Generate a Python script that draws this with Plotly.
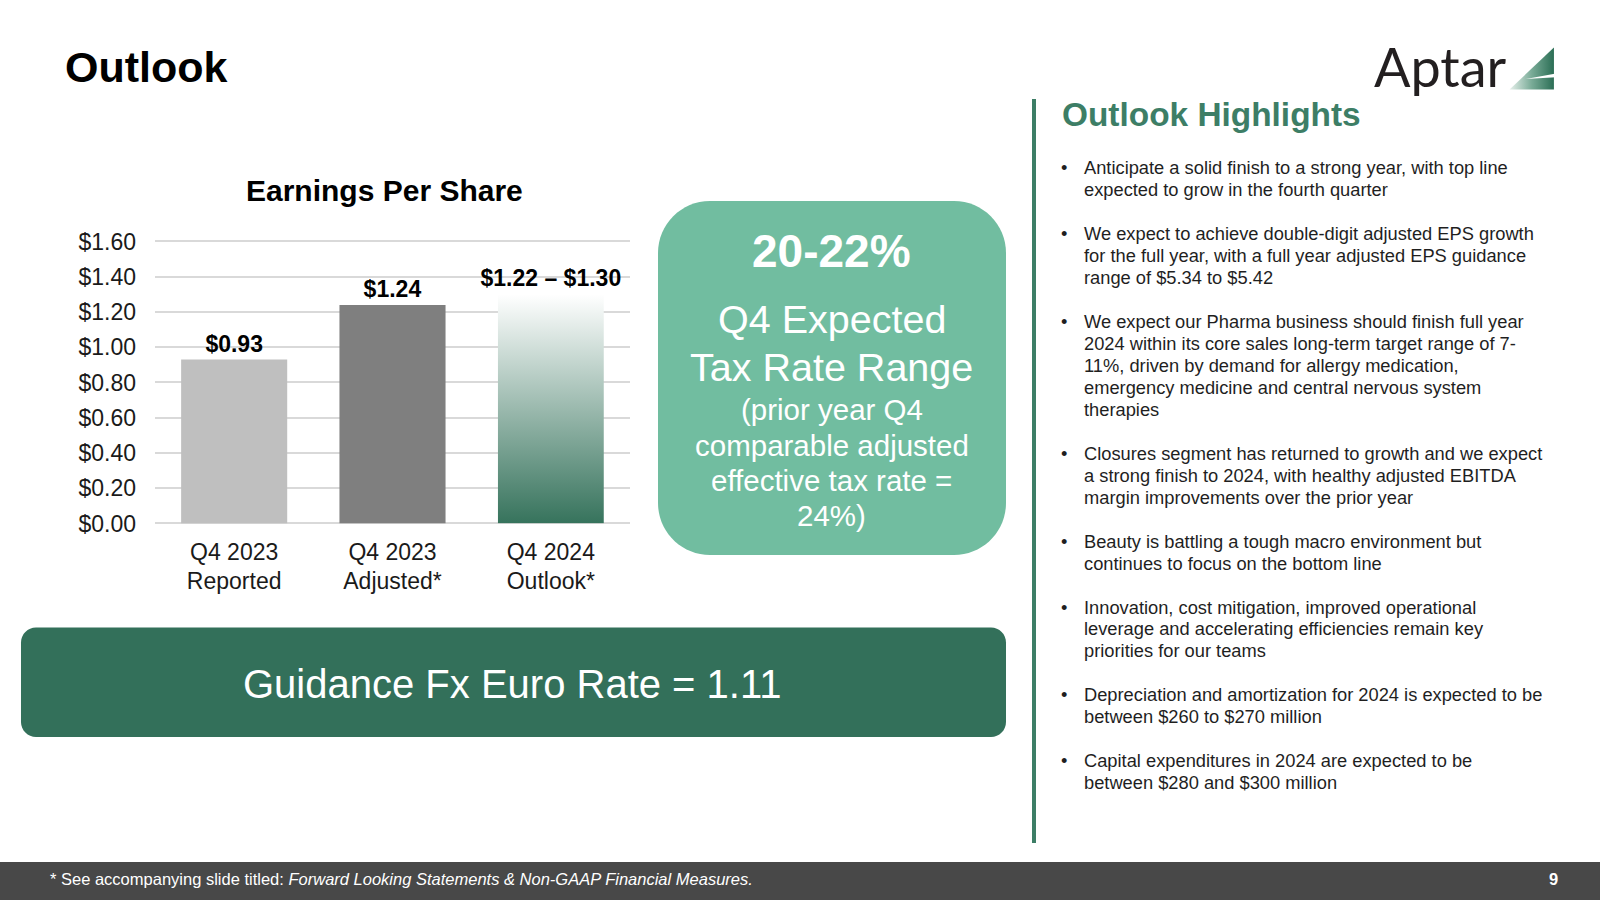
import base64

import plotly.graph_objs as go

W, H = 1600, 900
FONT = "Arial, 'Liberation Sans', sans-serif"
GREEN = "#3D7E66"
DARK_GREEN = "#33705A"
LIGHT_GREEN = "#71BDA0"

# chart data
categories = ["Q4 2023<br>Reported", "Q4 2023<br>Adjusted*", "Q4 2024<br>Outlook*"]
eps_values = [0.93, 1.24, 1.30]
outlook_low = 1.22
bar_colors = ["#BFBFBF", "#7F7F7F", "rgba(0,0,0,0)"]
bar_width = 0.67

tax_headline = "20-22%"
tax_lines = ["Q4 Expected", "Tax Rate Range"]
tax_note = ["(prior year Q4", "comparable adjusted", "effective tax rate =", "24%)"]
fx_text = "Guidance Fx Euro Rate = 1.11"

bullets = [
    ["Anticipate a solid finish to a strong year, with top line",
     "expected to grow in the fourth quarter"],
    ["We expect to achieve double-digit adjusted EPS growth",
     "for the full year, with a full year adjusted EPS guidance",
     "range of $5.34 to $5.42"],
    ["We expect our Pharma business should finish full year",
     "2024 within its core sales long-term target range of 7-",
     "11%, driven by demand for allergy medication,",
     "emergency medicine and central nervous system",
     "therapies"],
    ["Closures segment has returned to growth and we expect",
     "a strong finish to 2024, with healthy adjusted EBITDA",
     "margin improvements over the prior year"],
    ["Beauty is battling a tough macro environment but",
     "continues to focus on the bottom line"],
    ["Innovation, cost mitigation, improved operational",
     "leverage and accelerating efficiencies remain key",
     "priorities for our teams"],
    ["Depreciation and amortization for 2024 is expected to be",
     "between $260 to $270 million"],
    ["Capital expenditures in 2024 are expected to be",
     "between $280 and $300 million"],
]


def fmt(v):
    return "${:.2f}".format(v)


bar_labels = [fmt(v) for v in eps_values[:2]] + [fmt(outlook_low) + " – " + fmt(eps_values[2])]


def px(x, y):
    return x / W, 1 - y / H


def rounded_path(x0, y0, x1, y1, r):
    k = 0.4477 * r

    def p(x, y):
        a, b = px(x, y)
        return "{:.5f},{:.5f}".format(a, b)

    return ("M {} L {} C {} {} {} L {} C {} {} {} L {} C {} {} {} L {} C {} {} {} Z".format(
        p(x0 + r, y0), p(x1 - r, y0),
        p(x1 - k, y0), p(x1, y0 + k), p(x1, y0 + r),
        p(x1, y1 - r),
        p(x1, y1 - k), p(x1 - k, y1), p(x1 - r, y1),
        p(x0 + r, y1),
        p(x0 + k, y1), p(x0, y1 - k), p(x0, y1 - r),
        p(x0, y0 + r),
        p(x0, y0 + k), p(x0 + k, y0), p(x0 + r, y0)))


def svg_uri(svg):
    return "data:image/svg+xml;base64," + base64.b64encode(svg.encode()).decode()


annotations = []


def add_text(x, y, s, size, color="#1F1F1F", xanchor="left", family=FONT):
    ax, ay = px(x, y)
    annotations.append(dict(
        x=ax, y=ay, xref="paper", yref="paper", text=s, showarrow=False,
        xanchor=xanchor, yanchor="middle", align=xanchor if xanchor != "center" else "center",
        font=dict(family=family, size=size, color=color)))


fig = go.Figure()
fig.add_trace(go.Bar(
    x=categories, y=eps_values, width=bar_width,
    marker=dict(color=bar_colors, line=dict(width=0)),
    text=bar_labels, textposition="outside", constraintext="none",
    textfont=dict(family=FONT, size=23, color="#000000", weight="bold"),
    cliponaxis=False, hoverinfo="skip",
))

# gradient fill for the outlook bar
grad_svg = ('<svg xmlns="http://www.w3.org/2000/svg" width="10" height="100" viewBox="0 0 10 100" '
            'preserveAspectRatio="none"><defs><linearGradient id="g" x1="0" y1="0" x2="0" y2="1">'
            '<stop offset="0" stop-color="#FFFFFF"/><stop offset="1" stop-color="#36735C"/>'
            '</linearGradient></defs><rect width="10" height="100" fill="url(#g)"/></svg>')
mark_svg = ('<svg xmlns="http://www.w3.org/2000/svg" width="46" height="44" viewBox="0 0 46 44">'
            '<defs><linearGradient id="m" x1="0" y1="0" x2="1" y2="0">'
            '<stop offset="0" stop-color="#E6F0EB"/><stop offset="0.5" stop-color="#79AB97"/>'
            '<stop offset="1" stop-color="#2B6E55"/></linearGradient></defs>'
            '<polygon points="1.5,43.5 44,1.5 44,43.5" fill="url(#m)"/>'
            '<polygon points="17,33 46,27.5 46,31.2" fill="#FFFFFF"/></svg>')

images = [
    dict(source=svg_uri(grad_svg), xref="x", yref="y",
         x=2 - bar_width / 2, y=eps_values[2], sizex=bar_width, sizey=eps_values[2],
         xanchor="left", yanchor="top", sizing="stretch", layer="above"),
    dict(source=svg_uri(mark_svg), xref="paper", yref="paper",
         x=1508 / W, y=1 - 46 / H, sizex=48 / W, sizey=44 / H,
         xanchor="left", yanchor="top", sizing="stretch", layer="above"),
]

shapes = [
    dict(type="path", xref="paper", yref="paper", path=rounded_path(658, 201, 1006, 555, 52),
         fillcolor=LIGHT_GREEN, line=dict(width=0), layer="below"),
    dict(type="path", xref="paper", yref="paper", path=rounded_path(21, 627.5, 1006, 737, 15),
         fillcolor=DARK_GREEN, line=dict(width=0), layer="below"),
    dict(type="line", xref="paper", yref="paper", x0=1034 / W, x1=1034 / W,
         y0=1 - 99 / H, y1=1 - 843 / H, line=dict(color=GREEN, width=4)),
    dict(type="rect", xref="paper", yref="paper", x0=0, x1=1, y0=0, y1=1 - 862 / H,
         fillcolor="#484848", line=dict(width=0), layer="below"),
]

# headers
add_text(63, 67, "<b>Outlook</b>", 43, color="#000000")
add_text(1440, 67, "Aptar", 54, color="#231F20", xanchor="center", family="Lato, 'Open Sans', sans-serif")
add_text(384, 191, "<b>Earnings Per Share</b>", 30, color="#000000", xanchor="center")

# tax box
add_text(831.5, 251.5, "<b>" + tax_headline + "</b>", 46, color="#FFFFFF", xanchor="center")
for i, line in enumerate(tax_lines):
    add_text(831.5, 319 + 48 * i, line, 39.5, color="#FFFFFF", xanchor="center")
for i, line in enumerate(tax_note):
    add_text(831.5, 410 + 35 * i, line, 29.5, color="#FFFFFF", xanchor="center")

# fx box
add_text(512, 683.5, fx_text, 40, color="#FFFFFF", xanchor="center")

# highlights
add_text(1060, 114, "<b>Outlook Highlights</b>", 33.4, color=GREEN)
k = 0
for b in bullets:
    add_text(1063.5, 167.5 + 21.975 * k, "•", 18.3, xanchor="center")
    for line in b:
        add_text(1082, 167.5 + 21.975 * k, line, 18.3)
        k += 1
    k += 1

# footer
add_text(48, 879, "* See accompanying slide titled: <i>Forward Looking Statements &amp; "
                  "Non-GAAP Financial Measures.</i>", 16.5, color="#FFFFFF")
add_text(1553, 879, "<b>9</b>", 16.5, color="#FFFFFF", xanchor="center")

# y scale: $0 at 523.5px, $1.60 at 241.5px; range runs a bit past 1.6 so that gridline is kept
y_top = 1.615
px_per_unit = (523.5 - 241.5) / 1.6

fig.update_layout(
    width=W, height=H, margin=dict(l=0, r=0, t=0, b=0, pad=0, autoexpand=False),
    paper_bgcolor="#FFFFFF", plot_bgcolor="#FFFFFF",
    showlegend=False, font=dict(family=FONT),
    annotations=annotations, shapes=shapes, images=images,
    xaxis=dict(domain=[155 / W, 630 / W], range=[-0.5, 2.5], showgrid=False, zeroline=False,
               showline=False, ticks="", ticklabelstandoff=12, automargin=False,
               tickfont=dict(family=FONT, size=23, color="#1A1A1A")),
    yaxis=dict(domain=[1 - 523.5 / H, 1 - (523.5 - y_top * px_per_unit) / H], range=[0, y_top],
               dtick=0.2, tickprefix="$", tickformat=".2f",
               showgrid=True, gridcolor="#D9D9D9", gridwidth=1.5,
               zeroline=True, zerolinecolor="#D9D9D9", zerolinewidth=1.5, showline=False,
               ticks="", ticklabelstandoff=18, automargin=False,
               tickfont=dict(family=FONT, size=23, color="#1A1A1A")),
)

# pin the 1600x900 figure to the window corner, no page margin
pin = ("document.documentElement.style.margin='0';document.body.style.margin='0';"
       "document.body.style.overflow='hidden';"
       "var d=document.getElementById('{plot_id}');"
       "d.style.position='fixed';d.style.left='0px';d.style.top='0px';")
fig.write_html("out.html", config={"displayModeBar": False}, post_script=pin)
